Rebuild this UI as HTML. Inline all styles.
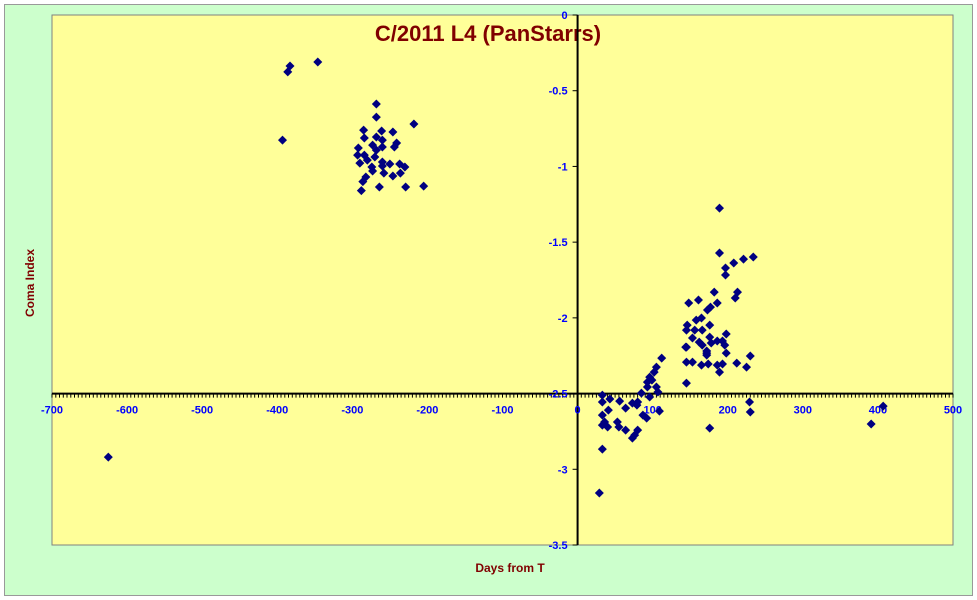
<!DOCTYPE html>
<html><head><meta charset="utf-8"><style>
body{margin:0;background:#fff}
svg{display:block;font-family:"Liberation Sans",sans-serif}
</style></head><body>
<svg id="chart" width="977" height="600" viewBox="0 0 977 600" xmlns="http://www.w3.org/2000/svg">
<rect x="4.5" y="4.5" width="968" height="591" fill="#ccffcc" stroke="#999" stroke-width="1"/>
<rect x="52" y="15" width="901" height="530" fill="#ffff99" stroke="#808080" stroke-width="1"/>
<text x="488" y="41" text-anchor="middle" font-size="22" font-weight="bold" fill="#800000">C/2011 L4 (PanStarrs)</text>
<text x="510" y="572" text-anchor="middle" font-size="12" font-weight="bold" fill="#800000">Days from T</text>
<text x="34" y="283" text-anchor="middle" font-size="12" font-weight="bold" fill="#800000" transform="rotate(-90 34 283)">Coma Index</text>
<g id="axes"></g>
<g id="marks"></g>
</svg>
<script>
const xTicks=[-700,-600,-500,-400,-300,-200,-100,0,100,200,300,400,500];
const yTicks=[0,-0.5,-1,-1.5,-2,-2.5,-3,-3.5];
const xDays=[-383,-386,-346,-393,-268,-268,-218,-285,-261,-246,-284,-268,-260,-241,-244,-292,-273,-268,-260,-293,-284,-270,-280,-290,-260,-250,-237,-230,-274,-273,-260,-258,-246,-236,-282,-286,-288,-264,-229,-205,-625,
112,105,102,96,93,99,105,107,93,145,33,33,43,56,64,73,80,85,96,79,87,92,109,41,33,36,40,33,53,55,64,80,76,73,176,33,29,145,145,153,165,174,172,
189,189,208,221,234,197,197,182,213,210,148,161,186,177,173,158,165,146,145,156,176,166,153,162,176,198,186,193,196,178,166,144,172,198,172,230,193,186,212,225,189,229,230,391,407];
const yComa=[-0.337,-0.376,-0.31,-0.826,-0.588,-0.674,-0.72,-0.76,-0.766,-0.773,-0.812,-0.806,-0.826,-0.845,-0.872,-0.878,-0.859,-0.892,-0.872,-0.925,-0.925,-0.938,-0.958,-0.978,-0.971,-0.984,-0.984,-1.004,-1.004,-1.03,-0.997,-1.044,-1.063,-1.044,-1.07,-1.10,-1.16,-1.136,-1.136,-1.13,-2.92,
-2.266,-2.325,-2.358,-2.391,-2.424,-2.411,-2.457,-2.49,-2.457,-2.431,-2.51,-2.556,-2.536,-2.55,-2.596,-2.563,-2.556,-2.497,-2.523,-2.576,-2.642,-2.662,-2.616,-2.609,-2.642,-2.688,-2.721,-2.708,-2.688,-2.721,-2.741,-2.741,-2.774,-2.794,-2.728,-2.867,-3.157,-2.193,-2.292,-2.292,-2.312,-2.305,-2.233,
-1.275,-1.572,-1.638,-1.612,-1.598,-1.671,-1.717,-1.83,-1.83,-1.869,-1.902,-1.882,-1.902,-1.929,-1.948,-2.015,-2.001,-2.048,-2.081,-2.081,-2.048,-2.081,-2.133,-2.16,-2.127,-2.107,-2.153,-2.153,-2.18,-2.166,-2.18,-2.193,-2.219,-2.233,-2.246,-2.252,-2.305,-2.312,-2.299,-2.325,-2.358,-2.556,-2.622,-2.701,-2.583];
const X0=52,X1=953,Y0=15,Y1=545,xMin=-700,xMax=500,yMin=-3.5,yMax=0;
const xs=v=>X0+(v-xMin)/(xMax-xMin)*(X1-X0);
const ys=v=>Y0+(yMax-v)/(yMax-yMin)*(Y1-Y0);
const NS='http://www.w3.org/2000/svg';
const axes=document.getElementById('axes'),marks=document.getElementById('marks');
function mk(tag,attrs,parent){const e=document.createElementNS(NS,tag);for(const k in attrs)e.setAttribute(k,attrs[k]);parent.appendChild(e);return e;}
const ax=xs(0),ay=ys(-2.5);
// minor x ticks
let d='';
for(let v=xMin;v<=xMax;v+=5){const x=xs(v);d+=`M${x.toFixed(1)} ${ay} V${ay+4}`;}
const minor=mk('path',{d:d,stroke:'#000','stroke-width':1},axes);


const xl=mk('line',{x1:X0,x2:X1,y1:ay,y2:ay,stroke:'#000','stroke-width':2},axes);


const yl=mk('line',{x1:ax,x2:ax,y1:Y0,y2:Y1,stroke:'#000','stroke-width':2},axes);


xTicks.forEach(v=>{
  const t=mk('text',{x:xs(v),y:ay+20,'text-anchor':'middle','font-size':11,'font-weight':'bold',fill:'#0000ff'},axes);
  t.textContent=v;
  
  
});
yTicks.forEach(v=>{
  const y=ys(v);
  const tk=mk('line',{x1:ax-5,x2:ax,y1:y,y2:y,stroke:'#000','stroke-width':1},axes);
  
  
  const t=mk('text',{x:ax-10,y:y+4,'text-anchor':'end','font-size':11,'font-weight':'bold',fill:'#0000ff'},axes);
  t.textContent=v;
  
  
});
xDays.forEach((v,i)=>{
  const x=xs(v),y=ys(yComa[i]);
  const p=mk('path',{d:`M${x} ${y-4.5}L${x+4.5} ${y}L${x} ${y+4.5}L${x-4.5} ${y}Z`,fill:'#000080'},marks);
  
  
});
</script>
</body></html>
